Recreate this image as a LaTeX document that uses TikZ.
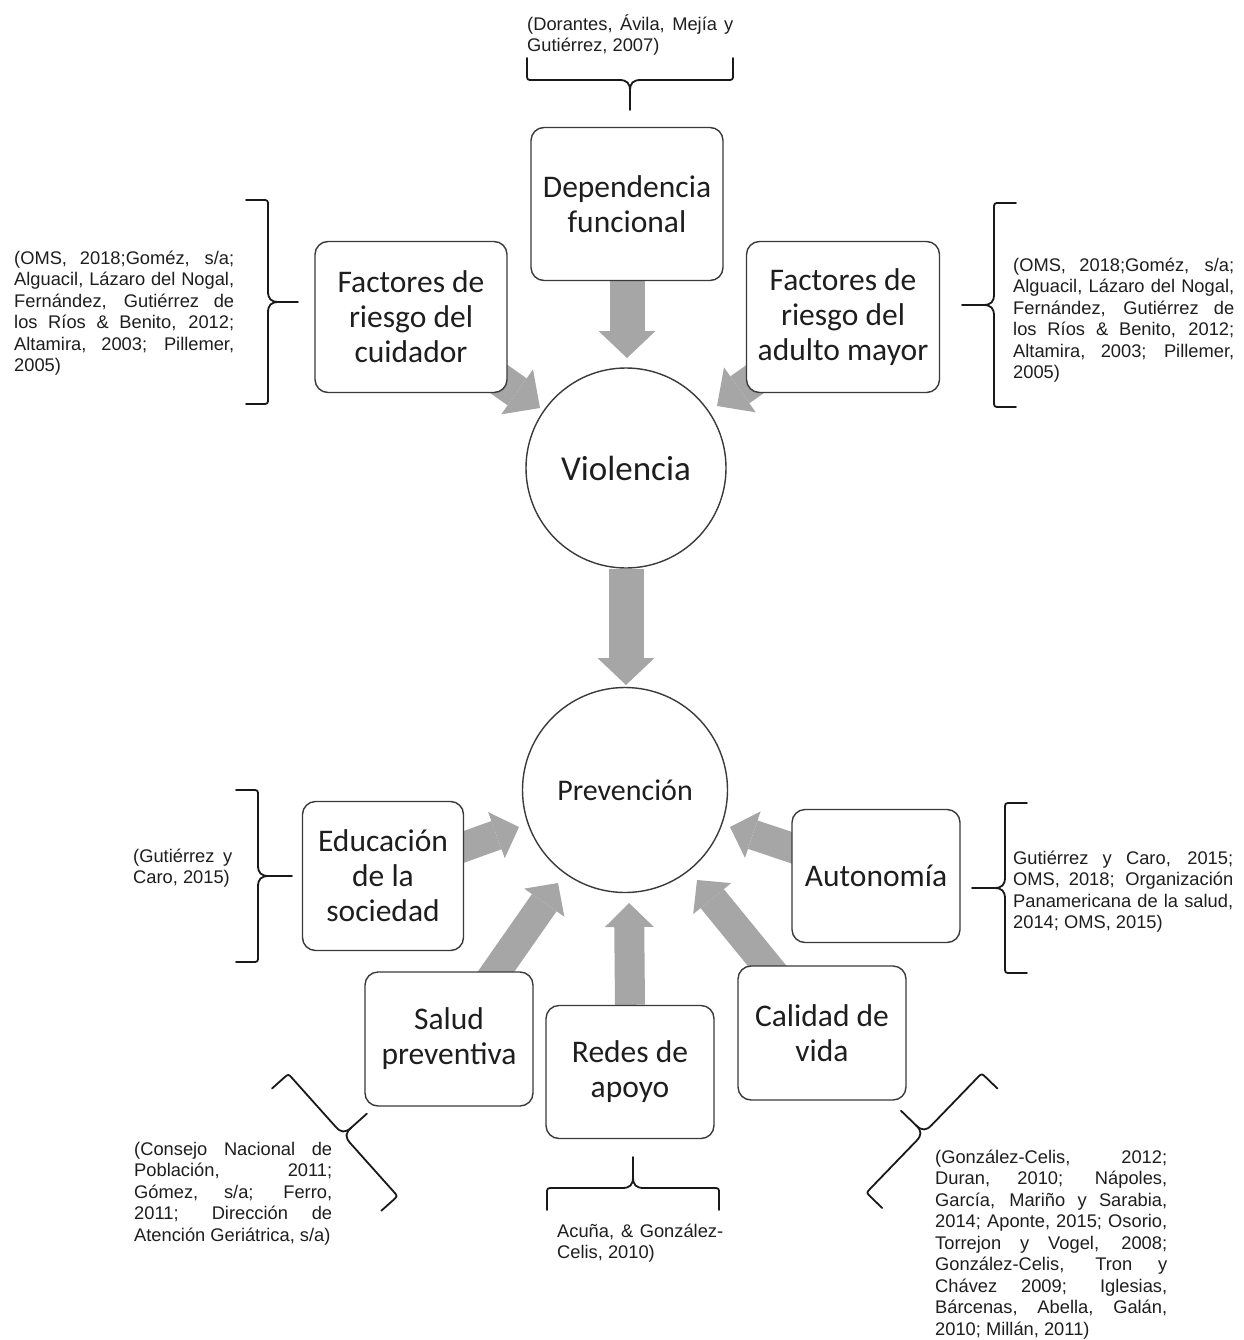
\documentclass[tikz,border=0pt]{standalone}
\usepackage{fontspec}
\newfontfamily\citefont{Liberation Sans}
\newfontfamily\boxfont{Carlito}
\usetikzlibrary{arrows.meta,backgrounds}
\definecolor{arrgray}{HTML}{A6A6A6}
\definecolor{boxline}{HTML}{3A3A3A}
\definecolor{txt}{HTML}{1E1E1E}
\newcommand\fstrut{\rule{0pt}{17pt}}
\tikzset{
  concept/.style={draw=boxline, line width=1.4pt, rounded corners=13pt, fill=white, align=center, inner sep=0pt, text=txt, font=\boxfont\fontsize{31.5}{35}\selectfont},
  hub/.style={draw=boxline, line width=1.4pt, circle, fill=white, inner sep=0pt, text=txt},
  cite/.style={anchor=north west, inner sep=0pt, align=justify, text=txt,
    font=\citefont\fontsize{18.3}{21.5}\selectfont,
    execute at begin node={\spaceskip=5.1pt plus 10pt minus 1.7pt\relax\tolerance=10000\hyphenpenalty=10000\hbadness=10000\relax}},
  bigarrow/.style={color=arrgray, line width=35pt, -{Triangle[length=27pt,width=57pt,line width=0pt]}},
  toparrow/.style={color=arrgray, line width=33pt, -{Triangle[length=28pt,width=55pt,line width=0pt]}},
  midarrow/.style={color=arrgray, line width=30pt, -{Triangle[length=24pt,width=49pt,line width=0pt]}},
  braceline/.style={draw=black!90, line width=1.8pt, line join=round, line cap=round},
  pics/cbrace/.style args={#1/#2}{code={
    \draw[braceline] (-#1,-22) -- (-#1,-6) .. controls (-#1,0) .. (-#1+6,0) -- (-11,0) .. controls (-3,0) and (0,3) .. (0,11) -- (0,#2);
    \draw[braceline] (#1,-22) -- (#1,-6) .. controls (#1,0) .. (#1-6,0) -- (11,0) .. controls (3,0) and (0,3) .. (0,11);
  }}
}
\begin{document}
\begin{tikzpicture}[x=1pt,y=-1pt]
\useasboundingbox (0,0) rectangle (1243,1340);

% concept boxes and circles
\node[concept, minimum width=192pt, minimum height=153pt] (dep) at (627,204) {Dependencia\\funcional};
\node[concept, minimum width=192pt, minimum height=151pt] (cuid) at (411,317) {Factores de\\riesgo del\\cuidador};
\node[concept, minimum width=193pt, minimum height=151pt] (adul) at (843,317) {Factores de\\riesgo del\\adulto mayor};
\node[hub, minimum size=200pt, font=\boxfont\fontsize{35}{40}\selectfont] (viol) at (626,468) {Violencia};
\node[hub, minimum size=205pt, font=\boxfont\fontsize{30}{36}\selectfont] (prev) at (625,790) {Prevención};
\node[concept, minimum width=161pt, minimum height=149pt] (educ) at (383,876) {Educación\\de la\\sociedad};
\node[concept, minimum width=168pt, minimum height=133pt] (auto) at (876,876) {Autonomía};
\node[concept, minimum width=168pt, minimum height=134pt] (salud) at (449,1039) {Salud\\preventiva};
\node[concept, minimum width=168pt, minimum height=133pt] (redes) at (630,1072) {Redes de\\apoyo};
\node[concept, minimum width=168pt, minimum height=134pt] (cal) at (822,1033) {Calidad de\\vida};

% arrow tips
\coordinate (t1) at (627,358);
\coordinate (t2) at (540,408);
\coordinate (t3) at (717,406);
\coordinate (t4) at (626,685);
\coordinate (t5) at (519,827);
\coordinate (t6) at (730,827);
\coordinate (t7) at (558,883);
\coordinate (t8) at (629,903);
\coordinate (t9) at (697,880);

\begin{scope}[on background layer]
\fill[white] (0,0) rectangle (1243,1340);
\draw[bigarrow] (dep.south) -- (t1);
\draw[toparrow] (cuid.center) -- (t2);
\draw[toparrow] (adul.center) -- (t3);
\draw[bigarrow] (viol.south) -- (t4);
\draw[midarrow] (educ.center) -- (t5);
\draw[midarrow] (auto.center) -- (t6);
\draw[midarrow] (salud.center) -- (t7);
\draw[midarrow] (redes.north) -- (t8);
\draw[midarrow] (cal.center) -- (t9);
\end{scope}

% braces
\pic at (630,80) {cbrace=103/30};
\pic[rotate=90] at (268,302) {cbrace=102/30};
\pic[rotate=-90] at (994,305) {cbrace=102/32};
\pic[rotate=90] at (258,876) {cbrace=86/34};
\pic[rotate=-90] at (1005,888) {cbrace=85/33};
\pic[rotate=131.8] at (343,1135) {cbrace=82/32};
\pic[rotate=180] at (633,1188) {cbrace=86/31};
\pic[rotate=226] at (924,1133) {cbrace=83/32};

% citations
\node[cite, text width=206pt] (c1) at (527,13) {\fstrut(Dorantes, Ávila, Mejía y\linebreak Gutiérrez, 2007)};
\node[cite, text width=220pt] (c2) at (14,247) {\fstrut(OMS, 2018;Goméz, s/a;\linebreak Alguacil, Lázaro del Nogal,\linebreak Fernández, Gutiérrez de\linebreak los Ríos \& Benito, 2012;\linebreak Altamira, 2003; Pillemer,\linebreak 2005)};
\node[cite, text width=221pt] (c3) at (1013,254) {\fstrut(OMS, 2018;Goméz, s/a;\linebreak Alguacil, Lázaro del Nogal,\linebreak Fernández, Gutiérrez de\linebreak los Ríos \& Benito, 2012;\linebreak Altamira, 2003; Pillemer,\linebreak 2005)};
\node[cite, text width=99pt] (c4) at (133,845) {\fstrut(Gutiérrez y\linebreak Caro, 2015)};
\node[cite, text width=220pt] (c5) at (1013,847) {\fstrut Gutiérrez y Caro, 2015;\linebreak OMS, 2018; Organización\linebreak Panamericana de la salud,\linebreak 2014; OMS, 2015)};
\node[cite, text width=198pt] (c6) at (134,1138) {\fstrut(Consejo Nacional de\linebreak Población, 2011;\linebreak Gómez, s/a; Ferro,\linebreak 2011; Dirección de\linebreak Atención Geriátrica, s/a)};
\node[cite, text width=166pt] (c7) at (557,1220) {\fstrut Acuña, \& González-\linebreak Celis, 2010)};
\node[cite, text width=232pt] (c8) at (935,1146) {\fstrut(González-Celis, 2012;\linebreak Duran, 2010; Nápoles,\linebreak García, Mariño y Sarabia,\linebreak 2014; Aponte, 2015; Osorio,\linebreak Torrejon y Vogel, 2008;\linebreak González-Celis, Tron y\linebreak Chávez 2009; Iglesias,\linebreak Bárcenas, Abella, Galán,\linebreak 2010; Millán, 2011)};
\end{tikzpicture}
\end{document}
